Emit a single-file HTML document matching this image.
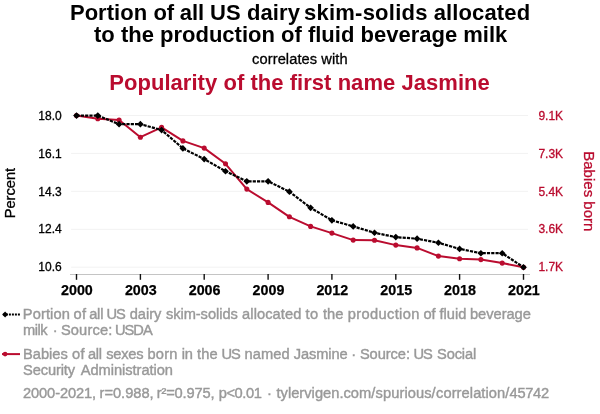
<!DOCTYPE html>
<html><head><meta charset="utf-8"><title>Spurious correlation</title>
<style>
html,body{margin:0;padding:0;background:#fff;}
svg{display:block;will-change:transform;font-family:"Liberation Sans",Arial,Helvetica,sans-serif;}
.t{font-weight:bold;font-size:22px;}
.lg{font-size:14.67px;fill:#999;stroke:#999;stroke-width:0.4px;}
</style></head><body>
<svg width="600" height="414" viewBox="0 0 600 414">
<rect width="600" height="414" fill="#fff"/>
<text class="t" y="19.6" fill="#000"><tspan x="69.9" textLength="77.3">Portion</tspan> <tspan x="153.4" textLength="20.8">of</tspan> <tspan x="179.7" textLength="24.5">all</tspan> <tspan x="210.0" textLength="30.7">US</tspan> <tspan x="246.9" textLength="53.0">dairy</tspan> <tspan x="303.9" textLength="123.6">skim-solids</tspan> <tspan x="433.7" textLength="96.4">allocated</tspan></text>
<text class="t" x="94" y="42.3" textLength="413.3" fill="#000">to the production of fluid beverage milk</text>
<text x="252.1" y="63.6" font-size="14.67" textLength="95.5" fill="#000" stroke="#000" stroke-width="0.3">correlates with</text>
<text class="t" x="109.2" y="89.6" textLength="380.6" fill="#ba0c2f">Popularity of the first name Jasmine</text>
<line x1="71.1" x2="528" y1="115.5" y2="115.5" stroke="#f2f2f2" stroke-width="1"/>
<line x1="71.1" x2="528" y1="153.4" y2="153.4" stroke="#f2f2f2" stroke-width="1"/>
<line x1="71.1" x2="528" y1="191.3" y2="191.3" stroke="#f2f2f2" stroke-width="1"/>
<line x1="71.1" x2="528" y1="229.3" y2="229.3" stroke="#f2f2f2" stroke-width="1"/>
<line x1="71.1" x2="528" y1="267.2" y2="267.2" stroke="#f2f2f2" stroke-width="1"/>
<line x1="70" x2="530" y1="274.5" y2="274.5" stroke="#c4c4c4" stroke-width="1"/>
<line x1="76.5" x2="76.5" y1="274" y2="279.8" stroke="#111" stroke-width="1.4"/>
<text x="76.9" y="294.7" font-size="14.3" font-weight="bold" text-anchor="middle" fill="#000" stroke="#000" stroke-width="0.25">2000</text>
<line x1="140.4" x2="140.4" y1="274" y2="279.8" stroke="#111" stroke-width="1.4"/>
<text x="140.8" y="294.7" font-size="14.3" font-weight="bold" text-anchor="middle" fill="#000" stroke="#000" stroke-width="0.25">2003</text>
<line x1="204.2" x2="204.2" y1="274" y2="279.8" stroke="#111" stroke-width="1.4"/>
<text x="204.6" y="294.7" font-size="14.3" font-weight="bold" text-anchor="middle" fill="#000" stroke="#000" stroke-width="0.25">2006</text>
<line x1="268.1" x2="268.1" y1="274" y2="279.8" stroke="#111" stroke-width="1.4"/>
<text x="268.5" y="294.7" font-size="14.3" font-weight="bold" text-anchor="middle" fill="#000" stroke="#000" stroke-width="0.25">2009</text>
<line x1="331.9" x2="331.9" y1="274" y2="279.8" stroke="#111" stroke-width="1.4"/>
<text x="332.3" y="294.7" font-size="14.3" font-weight="bold" text-anchor="middle" fill="#000" stroke="#000" stroke-width="0.25">2012</text>
<line x1="395.8" x2="395.8" y1="274" y2="279.8" stroke="#111" stroke-width="1.4"/>
<text x="396.2" y="294.7" font-size="14.3" font-weight="bold" text-anchor="middle" fill="#000" stroke="#000" stroke-width="0.25">2015</text>
<line x1="459.6" x2="459.6" y1="274" y2="279.8" stroke="#111" stroke-width="1.4"/>
<text x="460.0" y="294.7" font-size="14.3" font-weight="bold" text-anchor="middle" fill="#000" stroke="#000" stroke-width="0.25">2018</text>
<line x1="523.5" x2="523.5" y1="274" y2="279.8" stroke="#111" stroke-width="1.4"/>
<text x="523.9" y="294.7" font-size="14.3" font-weight="bold" text-anchor="middle" fill="#000" stroke="#000" stroke-width="0.25">2021</text>
<text x="61.7" y="119.7" font-size="12" text-anchor="end" fill="#000" stroke="#000" stroke-width="0.3">18.0</text>
<text x="538.4" y="119.7" font-size="12" fill="#ba0c2f" stroke="#ba0c2f" stroke-width="0.3">9.1K</text>
<text x="61.7" y="157.6" font-size="12" text-anchor="end" fill="#000" stroke="#000" stroke-width="0.3">16.1</text>
<text x="538.4" y="157.6" font-size="12" fill="#ba0c2f" stroke="#ba0c2f" stroke-width="0.3">7.3K</text>
<text x="61.7" y="195.5" font-size="12" text-anchor="end" fill="#000" stroke="#000" stroke-width="0.3">14.3</text>
<text x="538.4" y="195.5" font-size="12" fill="#ba0c2f" stroke="#ba0c2f" stroke-width="0.3">5.4K</text>
<text x="61.7" y="233.4" font-size="12" text-anchor="end" fill="#000" stroke="#000" stroke-width="0.3">12.4</text>
<text x="538.4" y="233.4" font-size="12" fill="#ba0c2f" stroke="#ba0c2f" stroke-width="0.3">3.6K</text>
<text x="61.7" y="271.3" font-size="12" text-anchor="end" fill="#000" stroke="#000" stroke-width="0.3">10.6</text>
<text x="538.4" y="271.3" font-size="12" fill="#ba0c2f" stroke="#ba0c2f" stroke-width="0.3">1.7K</text>
<text transform="translate(14.9,193.1) rotate(-90)" font-size="14.67" text-anchor="middle" fill="#000" stroke="#000" stroke-width="0.3">Percent</text>
<text transform="translate(583.5,191.3) rotate(90)" font-size="15" text-anchor="middle" fill="#ba0c2f" stroke="#ba0c2f" stroke-width="0.3">Babies born</text>
<polyline points="76.5,115.6 97.8,118.8 119.1,120.0 140.4,137.2 161.6,127.4 182.9,140.9 204.2,148.1 225.5,163.8 246.8,189.1 268.1,202.4 289.4,216.8 310.6,226.4 331.9,233.1 353.2,240.1 374.5,240.2 395.8,245.1 417.1,247.9 438.4,256.1 459.6,258.8 480.9,259.6 502.2,263.1 523.5,267.3" fill="none" stroke="#ba0c2f" stroke-width="2" stroke-linejoin="round"/>
<circle cx="76.5" cy="115.6" r="2.55" fill="#ba0c2f"/>
<circle cx="97.8" cy="118.8" r="2.55" fill="#ba0c2f"/>
<circle cx="119.1" cy="120.0" r="2.55" fill="#ba0c2f"/>
<circle cx="140.4" cy="137.2" r="2.55" fill="#ba0c2f"/>
<circle cx="161.6" cy="127.4" r="2.55" fill="#ba0c2f"/>
<circle cx="182.9" cy="140.9" r="2.55" fill="#ba0c2f"/>
<circle cx="204.2" cy="148.1" r="2.55" fill="#ba0c2f"/>
<circle cx="225.5" cy="163.8" r="2.55" fill="#ba0c2f"/>
<circle cx="246.8" cy="189.1" r="2.55" fill="#ba0c2f"/>
<circle cx="268.1" cy="202.4" r="2.55" fill="#ba0c2f"/>
<circle cx="289.4" cy="216.8" r="2.55" fill="#ba0c2f"/>
<circle cx="310.6" cy="226.4" r="2.55" fill="#ba0c2f"/>
<circle cx="331.9" cy="233.1" r="2.55" fill="#ba0c2f"/>
<circle cx="353.2" cy="240.1" r="2.55" fill="#ba0c2f"/>
<circle cx="374.5" cy="240.2" r="2.55" fill="#ba0c2f"/>
<circle cx="395.8" cy="245.1" r="2.55" fill="#ba0c2f"/>
<circle cx="417.1" cy="247.9" r="2.55" fill="#ba0c2f"/>
<circle cx="438.4" cy="256.1" r="2.55" fill="#ba0c2f"/>
<circle cx="459.6" cy="258.8" r="2.55" fill="#ba0c2f"/>
<circle cx="480.9" cy="259.6" r="2.55" fill="#ba0c2f"/>
<circle cx="502.2" cy="263.1" r="2.55" fill="#ba0c2f"/>
<circle cx="523.5" cy="267.3" r="2.55" fill="#ba0c2f"/>
<polyline points="76.5,115.6 97.8,115.6 119.1,124.2 140.4,124.2 161.6,130.0 182.9,148.4 204.2,159.1 225.5,171.2 246.8,181.3 268.1,181.3 289.4,191.7 310.6,207.8 331.9,220.3 353.2,226.4 374.5,232.8 395.8,237.1 417.1,238.7 438.4,242.8 459.6,248.9 480.9,253.2 502.2,253.2 523.5,267.3" fill="none" stroke="#000" stroke-width="2.2" stroke-dasharray="3.2,1.1"/>
<path d="M76.5 112.2l3.35 3.35l-3.35 3.35l-3.35 -3.35z" fill="#000"/>
<path d="M97.8 112.2l3.35 3.35l-3.35 3.35l-3.35 -3.35z" fill="#000"/>
<path d="M119.1 120.8l3.35 3.35l-3.35 3.35l-3.35 -3.35z" fill="#000"/>
<path d="M140.4 120.8l3.35 3.35l-3.35 3.35l-3.35 -3.35z" fill="#000"/>
<path d="M161.6 126.7l3.35 3.35l-3.35 3.35l-3.35 -3.35z" fill="#000"/>
<path d="M182.9 145.1l3.35 3.35l-3.35 3.35l-3.35 -3.35z" fill="#000"/>
<path d="M204.2 155.7l3.35 3.35l-3.35 3.35l-3.35 -3.35z" fill="#000"/>
<path d="M225.5 167.9l3.35 3.35l-3.35 3.35l-3.35 -3.35z" fill="#000"/>
<path d="M246.8 178.0l3.35 3.35l-3.35 3.35l-3.35 -3.35z" fill="#000"/>
<path d="M268.1 178.0l3.35 3.35l-3.35 3.35l-3.35 -3.35z" fill="#000"/>
<path d="M289.4 188.3l3.35 3.35l-3.35 3.35l-3.35 -3.35z" fill="#000"/>
<path d="M310.6 204.5l3.35 3.35l-3.35 3.35l-3.35 -3.35z" fill="#000"/>
<path d="M331.9 217.0l3.35 3.35l-3.35 3.35l-3.35 -3.35z" fill="#000"/>
<path d="M353.2 223.1l3.35 3.35l-3.35 3.35l-3.35 -3.35z" fill="#000"/>
<path d="M374.5 229.4l3.35 3.35l-3.35 3.35l-3.35 -3.35z" fill="#000"/>
<path d="M395.8 233.7l3.35 3.35l-3.35 3.35l-3.35 -3.35z" fill="#000"/>
<path d="M417.1 235.3l3.35 3.35l-3.35 3.35l-3.35 -3.35z" fill="#000"/>
<path d="M438.4 239.4l3.35 3.35l-3.35 3.35l-3.35 -3.35z" fill="#000"/>
<path d="M459.6 245.6l3.35 3.35l-3.35 3.35l-3.35 -3.35z" fill="#000"/>
<path d="M480.9 249.9l3.35 3.35l-3.35 3.35l-3.35 -3.35z" fill="#000"/>
<path d="M502.2 249.9l3.35 3.35l-3.35 3.35l-3.35 -3.35z" fill="#000"/>
<path d="M523.5 263.9l3.35 3.35l-3.35 3.35l-3.35 -3.35z" fill="#000"/>
<line x1="2" x2="20" y1="314.5" y2="314.5" stroke="#000" stroke-width="2" stroke-dasharray="2,1" stroke-dashoffset="-0.9"/><path d="M5.1 311.6l2.9 2.9l-2.9 2.9l-2.9 -2.9z" fill="#000"/>
<text class="lg" y="318.9"><tspan x="22.8" textLength="47.0">Portion</tspan> <tspan x="73.4" textLength="12.6">of</tspan> <tspan x="89.2" textLength="14.2">all</tspan> <tspan x="106.6" textLength="19.1">US</tspan> <tspan x="129.7" textLength="31.7">dairy</tspan> <tspan x="165.9" textLength="71.9">skim-solids</tspan> <tspan x="242.1" textLength="59.2">allocated</tspan> <tspan x="305.5" textLength="12.7">to</tspan> <tspan x="323.0" textLength="20.3">the</tspan> <tspan x="347.8" textLength="71.5">production</tspan> <tspan x="423.4" textLength="12.1">of</tspan> <tspan x="439.5" textLength="26.9">fluid</tspan> <tspan x="470.0" textLength="60.9">beverage</tspan></text>
<text class="lg" y="334.9"><tspan x="23.0" textLength="24.7">milk</tspan> <tspan x="52.7">·</tspan> <tspan x="60.9" textLength="51.4">Source:</tspan> <tspan x="115.0" textLength="37.7">USDA</tspan></text>
<line x1="2" x2="20" y1="354.1" y2="354.1" stroke="#ba0c2f" stroke-width="2"/><circle cx="5.1" cy="354.1" r="2.3" fill="#ba0c2f"/>
<text class="lg" y="358.8"><tspan x="23.1" textLength="44.7">Babies</tspan> <tspan x="72.1" textLength="12.6">of</tspan> <tspan x="88.0" textLength="14.0">all</tspan> <tspan x="106.3" textLength="37.2">sexes</tspan> <tspan x="147.4" textLength="30.0">born</tspan> <tspan x="181.7" textLength="11.2">in</tspan> <tspan x="197.1" textLength="20.5">the</tspan> <tspan x="221.6" textLength="19.1">US</tspan> <tspan x="244.6" textLength="45.0">named</tspan> <tspan x="293.8" textLength="53.9">Jasmine</tspan> <tspan x="351.3">·</tspan> <tspan x="359.9" textLength="50.1">Source:</tspan> <tspan x="413.6" textLength="19.1">US</tspan> <tspan x="437.0" textLength="39.2">Social</tspan></text>
<text class="lg" y="374.8"><tspan x="23.0" textLength="52.1">Security</tspan> <tspan x="80.7" textLength="92.3">Administration</tspan></text>
<text class="lg" y="398.1"><tspan x="23.0" textLength="73.1">2000-2021,</tspan> <tspan x="99.6" textLength="54.0">r=0.988,</tspan> <tspan x="156.7" textLength="57.9">r²=0.975,</tspan> <tspan x="218.7" textLength="43.1">p&lt;0.01</tspan> <tspan x="267.0">·</tspan> <tspan x="276.5" textLength="98.8">tylervigen.com/</tspan><tspan x="375.6" textLength="60.1">spurious/</tspan><tspan x="436.0" textLength="73.4">correlation/</tspan><tspan x="509.6" textLength="39.5">45742</tspan></text>
</svg></body></html>
